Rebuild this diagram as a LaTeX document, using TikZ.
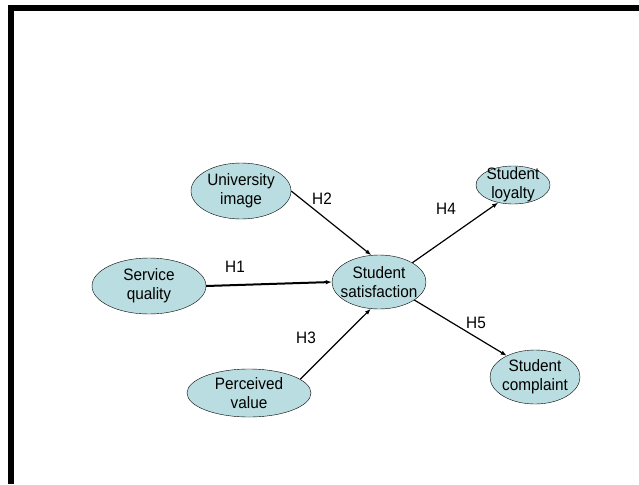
\documentclass[tikz,border=0pt]{standalone}
\usepackage{fontspec}
\setmainfont{Liberation Sans}[FakeStretch=0.93]
\usetikzlibrary{shapes.geometric,arrows.meta}
\definecolor{palecyan}{RGB}{185,221,224}
\begin{document}
\begin{tikzpicture}[x=1pt,y=-1pt,
  font=\fontsize{16.5}{19}\selectfont,
  construct/.style={ellipse, draw, thin, fill=palecyan, inner xsep=-14pt, inner ysep=-7pt, align=center},
  path/.style={line width=1.2pt, -{Latex[length=6pt,width=4.5pt]}}]
\useasboundingbox (0,0) rectangle (639,484);
\draw[line width=6pt] (11,484) -- (11,8) -- (639,8);
\node[construct, minimum width=100pt, minimum height=56pt] (uni) at (241,191) {University\\image};
\node[construct, minimum width=114pt, minimum height=56pt] (serv) at (149,286) {Service\\quality};
\node[construct, minimum width=124pt, minimum height=48pt] (perc) at (249,393) {Perceived\\value};
\node[construct, minimum width=94pt, minimum height=54pt] (sat) at (379,282) {Student\\satisfaction};
\node[construct, minimum width=74pt, minimum height=38pt] (loyal) at (513,185) {Student\\loyalty};
\node[construct, minimum width=90pt, minimum height=54pt] (compl) at (535,377) {Student\\complaint};
\draw[path, line width=2pt](serv.east) -- (sat.west);
\draw[path](uni.east) -- (sat.106);
\draw[path](perc.15) -- (sat.253);
\draw[path](sat.30) -- (loyal.230);
\draw[path](sat.333) -- (compl.143);
\node (h1) at (235,267) {H1};
\node (h2) at (322,199) {H2};
\node (h3) at (306,338) {H3};
\node (h4) at (446,209) {H4};
\node (h5) at (476,323) {H5};
\end{tikzpicture}
\end{document}
